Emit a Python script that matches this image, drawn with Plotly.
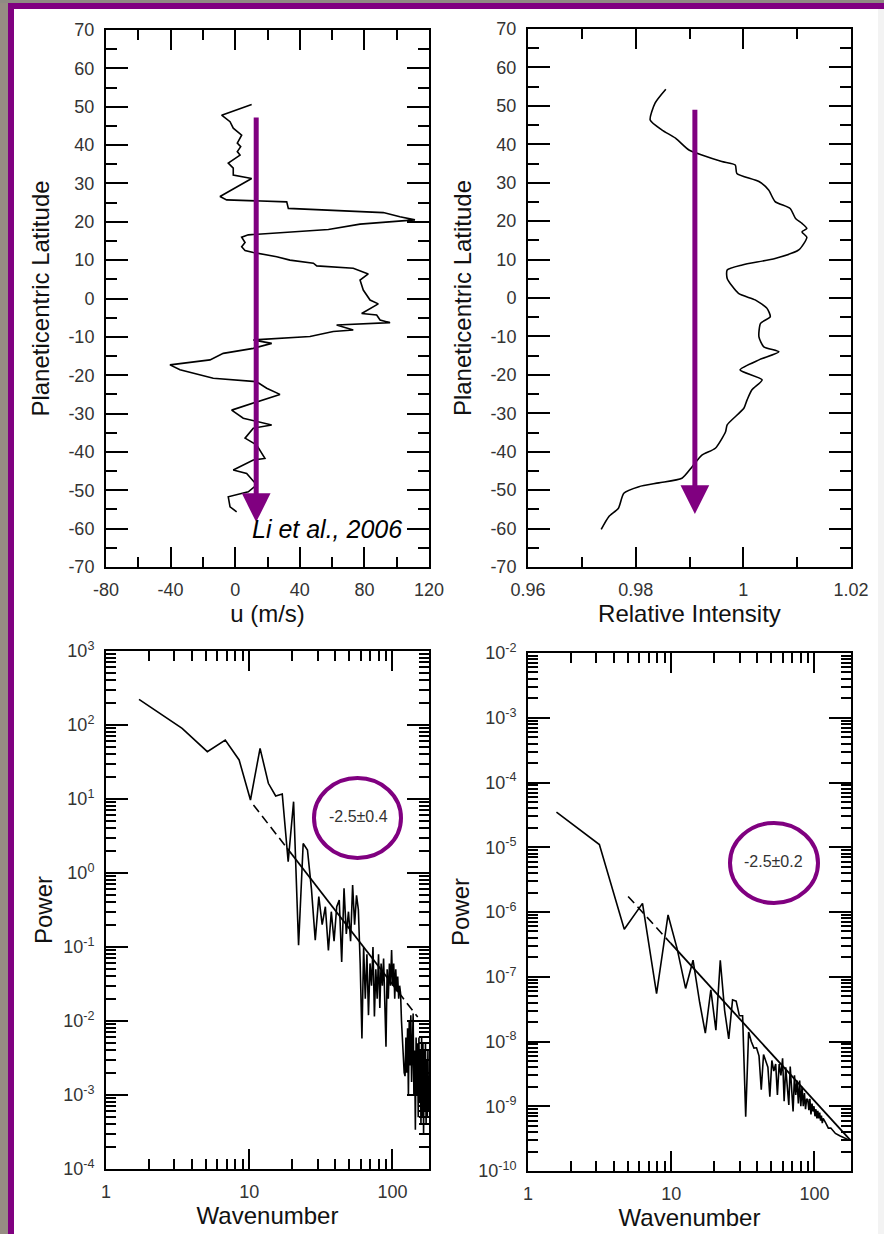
import plotly.graph_objects as go

# ---------------- data ----------------
# Top-left: zonal wind profile
u_wind = [10.2, -8.4, -3.2, -1.2, 4.0, 1.3, 3.4, 1.3, 3.0, -4.3, -1.2, -1.2, 10.2, -9.4, -5.3,
          31.9, 32.9, 91.7, 102.0, 111.3, 77.3, 57.7, 8.1, 4.0, 6.1, 4.0, 6.1, 11.2, 25.7, 33.9,
          48.4, 50.5, 73.1, 82.4, 77.3, 79.3, 83.5, 88.6, 78.3, 87.6, 89.7, 95.9, 62.8, 73.1,
          60.7, 46.3, 11.2, 22.6, 11.2, -7.4, -15.6, -40.4, -34.2, -13.6, 13.3, 19.5, 27.7,
          13.3, -2.2, 5.0, 22.6, 11.2, 6.1, 13.3, 18.4, 11.2, -1.2, 7.1, 13.3, 8.1, -4.3, -3.2, 0.9]
lat_wind = [50.6, 47.8, 46.1, 44.4, 42.6, 40.5, 39.6, 38.3, 37.4, 35.3, 34.0, 32.2, 31.3, 26.6, 25.7,
            25.2, 23.5, 22.4, 21.3, 20.5, 19.4, 18.0, 16.6, 16.0, 14.6, 13.5, 12.5, 12.0, 10.9, 10.0,
            9.2, 8.5, 7.9, 6.4, 4.8, 2.2, -0.4, -1.4, -3.9, -4.3, -5.6, -6.3, -6.9, -8.2,
            -8.6, -9.9, -10.8, -11.7, -13.0, -14.3, -16.0, -17.3, -18.6, -20.8, -21.7, -23.4, -25.0,
            -26.9, -29.1, -31.2, -33.0, -33.8, -36.4, -38.2, -41.7, -42.1, -44.7, -45.6, -48.6, -50.4, -51.7, -54.3, -55.6]

# Top-right: relative intensity profile
intensity = [0.9856, 0.9836, 0.9827, 0.9849, 0.9874, 0.9899, 0.9923, 0.9960, 0.9985, 0.9988,
             1.0029, 1.0047, 1.0059, 1.0087, 1.0097, 1.0109, 1.0118, 1.0109, 1.0118, 1.0103,
             1.0059, 0.9998, 0.9970, 0.9970, 0.9991, 1.0022, 1.0044, 1.0050, 1.0032, 1.0029,
             1.0038, 1.0066, 1.0029, 0.9994, 1.0035, 1.0016, 1.0007, 1.0001, 0.9970, 0.9967,
             0.9948, 0.9923, 0.9905, 0.9886, 0.9843, 0.9806, 0.9778, 0.9768, 0.9750, 0.9736]
lat_int = [54.3, 50.7, 46.3, 43.7, 41.6, 38.5, 37.2, 35.5, 34.6, 32.4,
           30.3, 28.1, 25.1, 23.3, 20.7, 19.4, 18.1, 17.2, 15.8, 12.5,
           10.3, 8.6, 7.3, 5.1, 1.2, -0.5, -2.7, -4.9, -6.6, -10.1,
           -12.7, -14.0, -16.1, -18.7, -21.3, -23.9, -26.5, -28.7, -33.0, -34.8,
           -39.1, -40.9, -43.9, -46.9, -48.1, -49.1, -50.8, -54.7, -56.9, -60.2]

# Bottom-left: power spectrum of wind
k_wind = [1.7, 3.4, 5.1, 6.8, 8.5, 10.2, 11.9, 13.6, 15.3, 17.0, 18.7, 20.4, 22.1, 23.8, 25.5,
          27.2, 28.9, 30.6, 32.3, 34.0, 35.7, 37.4, 39.1, 40.8, 42.5, 44.2, 45.9, 47.6, 49.3,
          51.0, 52.7, 54.4, 56.1, 57.8, 59.5, 61.2, 62.9, 64.6, 66.3, 68.0, 69.7, 71.4, 73.1,
          74.8, 76.5, 78.2, 79.9, 81.6, 83.3, 85.0, 86.7, 88.4, 90.1, 91.8, 93.5, 95.2, 96.9,
          98.6, 100.3, 102.0, 103.7, 105.4, 107.1, 108.8, 110.5, 112.2, 113.9, 115.6, 117.3,
          119.0, 120.7, 122.4, 124.1, 125.8, 127.5, 129.2, 130.9, 132.6, 134.3, 136.0, 137.7,
          139.4, 141.1, 142.8, 144.5, 146.2, 147.9, 149.6, 151.3, 153.0, 154.7, 156.4, 158.1,
          159.8, 161.5, 163.2, 164.9, 166.6, 168.3, 170.0, 171.7, 173.4, 175.1, 176.8, 178.5]
p_wind = [222, 90, 43.6, 62.7, 33.7, 9.7, 48.4, 16.3, 11.0, 11.7, 1.42, 9.2, 0.106, 2.5, 2.05,
          0.6, 0.124, 0.48, 0.2, 0.35, 0.09, 0.3, 0.12, 0.35, 0.43, 0.063, 0.62, 0.15, 0.3,
          0.12, 0.69, 0.2, 0.5, 0.32, 0.06, 0.0058, 0.1, 0.02, 0.08, 0.012, 0.06, 0.03, 0.1,
          0.0115, 0.05, 0.02, 0.08, 0.015, 0.06, 0.03, 0.07, 0.02, 0.0045, 0.05, 0.02, 0.06, 0.03,
          0.091, 0.03, 0.06, 0.02, 0.05, 0.025, 0.04, 0.02, 0.03, 0.0237, 0.01, 0.005,
          0.003, 0.002, 0.0018, 0.006, 0.002, 0.008, 0.001, 0.01, 0.0025, 0.012, 0.0015, 0.008,
          0.0126, 0.001, 0.004, 0.00034, 0.006, 0.001, 0.005, 0.0005, 0.006, 0.0008, 0.004, 0.0004,
          0.006, 0.0005, 0.005, 0.0003, 0.004, 0.0006, 0.005, 0.0004, 0.003, 0.0005, 0.004, 0.0006]

# Bottom-right: power spectrum of intensity
k_int = [1.58, 3.15, 4.7, 6.3, 7.9, 9.5, 11.0, 12.6, 14.2, 15.8, 17.3, 18.9, 20.5, 22.0, 23.6,
         25.2, 26.8, 28.4, 29.9, 31.5, 33.1, 34.7, 36.2, 37.8, 39.4, 41.0, 42.5, 44.1, 45.7,
         47.3, 48.8, 50.4, 52.0, 53.6, 55.1, 56.7, 58.3, 59.9, 61.4, 63.0, 64.6, 66.2, 67.7,
         69.3, 70.9, 72.5, 74.0, 75.6, 77.2, 78.8, 80.3, 81.9, 83.5, 85.1, 86.6, 88.2, 89.8,
         91.4, 92.9, 94.5, 96.1, 97.7, 99.2, 100.8, 102.4, 104.0, 105.5, 107.0, 108.7, 110.3,
         111.8, 113.4, 115.0, 120.0, 125.0, 130.0, 135.0, 140.0, 150.0, 160.0, 167.0, 175.0]
p_int = [3.5e-5, 1.1e-5, 5.4e-7, 1.36e-6, 5.5e-8, 9e-7, 2.7e-7, 6.6e-8, 1.8e-7, 4e-8, 1.35e-8,
         6.3e-8, 1.5e-8, 1.8e-7, 3e-8, 1.1e-8, 4.4e-8, 4.2e-8, 2.5e-8, 2.5e-8, 6.9e-10, 1.4e-8,
         1.0e-8, 7.9e-9, 8e-9, 6e-9, 1.8e-9, 6.3e-9, 5e-9, 4e-9, 1.4e-9, 5.1e-9, 3.5e-9, 4.5e-9,
         1.5e-9, 4.5e-9, 3e-9, 5.5e-9, 1.2e-9, 4e-9, 2e-9, 1.05e-9, 4.1e-9, 1.5e-9, 8.3e-10,
         3e-9, 1.5e-9, 2.5e-9, 1.1e-9, 2.5e-9, 1e-9, 2e-9, 1e-9, 1.6e-9, 9e-10, 1.3e-9, 1.26e-9,
         8.7e-10, 1.3e-9, 7.5e-10, 1.1e-9, 8.3e-10, 1e-9, 7e-10, 9e-10, 6.5e-10, 8.5e-10, 6.5e-10,
         8e-10, 6e-10, 7.2e-10, 5.5e-10, 6.5e-10, 5.5e-10, 4.6e-10, 4.6e-10, 4.2e-10, 3.8e-10,
         3.5e-10, 3.3e-10, 3.2e-10, 3.0e-10]

# Power-law fit lines (slope -2.5), endpoints
fit_wind_dash1_k = [10.7, 18.4]
fit_wind_dash1_p = [8.3, 2.16]
fit_wind_solid_k = [18.4, 110]
fit_wind_solid_p = [2.16, 0.0246]
fit_wind_dash2_k = [110, 150]
fit_wind_dash2_p = [0.0246, 0.0113]
fit_int_dash_k = [5.0, 9.9]
fit_int_dash_p = [1.74e-6, 3.3e-7]
fit_int_solid_k = [9.9, 178]
fit_int_solid_p = [3.3e-7, 3.0e-10]

# Tick labels
u_ticks = [-80, -40, 0, 40, 80, 120]
u_minor = [-60, -20, 20, 60, 100]
lat_ticks = list(range(-70, 71, 10))
lat_minor = list(range(-65, 70, 10))
int_ticks = [0.96, 0.98, 1.0, 1.02]
int_labels = ["0.96", "0.98", "1", "1.02"]
int_minor = [0.97, 0.99, 1.01]
k_ticks = [1, 10, 100]
k_labels = ["1", "10", "100"]
k_minor = [2, 3, 4, 5, 6, 7, 8, 9, 20, 30, 40, 50, 60, 70, 80, 90]
pw_exp = [-4, -3, -2, -1, 0, 1, 2, 3]
pi_exp = [-10, -9, -8, -7, -6, -5, -4, -3, -2]

# ---------------- figure ----------------
W, H = 884, 1234
PURPLE = "#800080"
FONT = "Liberation Sans, Arial, sans-serif"


def px(x):
    return x / W


def py(y):
    return 1 - y / H


def sup_labels(exps):
    vals = [10.0 ** e for e in exps]
    txt = ["10<sup>%s</sup>" % e for e in exps]
    return vals, txt


def log_minor(exps):
    out = []
    for e in exps[:-1]:
        for m in range(2, 10):
            out.append(m * 10.0 ** e)
    return out


fig = go.Figure()
line_style = dict(color="black", width=1.6)

fig.add_trace(go.Scatter(x=u_wind, y=lat_wind, mode="lines", line=line_style,
                         xaxis="x", yaxis="y", showlegend=False))
fig.add_trace(go.Scatter(x=intensity, y=lat_int, mode="lines",
                         line=dict(color="black", width=1.6, shape="spline", smoothing=0.6),
                         xaxis="x2", yaxis="y2", showlegend=False))
fig.add_trace(go.Scatter(x=k_wind, y=p_wind, mode="lines", line=line_style,
                         xaxis="x3", yaxis="y3", showlegend=False))
fig.add_trace(go.Scatter(x=fit_wind_dash1_k, y=fit_wind_dash1_p, mode="lines",
                         line=dict(color="black", width=1.6, dash="9px,5px"),
                         xaxis="x3", yaxis="y3", showlegend=False))
fig.add_trace(go.Scatter(x=fit_wind_solid_k, y=fit_wind_solid_p, mode="lines",
                         line=dict(color="black", width=1.8),
                         xaxis="x3", yaxis="y3", showlegend=False))
fig.add_trace(go.Scatter(x=fit_wind_dash2_k, y=fit_wind_dash2_p, mode="lines",
                         line=dict(color="black", width=1.6, dash="9px,5px"),
                         xaxis="x3", yaxis="y3", showlegend=False))
fig.add_trace(go.Scatter(x=k_int, y=p_int, mode="lines", line=line_style,
                         xaxis="x4", yaxis="y4", showlegend=False))
fig.add_trace(go.Scatter(x=fit_int_dash_k, y=fit_int_dash_p, mode="lines",
                         line=dict(color="black", width=1.6, dash="9px,5px"),
                         xaxis="x4", yaxis="y4", showlegend=False))
fig.add_trace(go.Scatter(x=fit_int_solid_k, y=fit_int_solid_p, mode="lines",
                         line=dict(color="black", width=1.8),
                         xaxis="x4", yaxis="y4", showlegend=False))

tickfont = dict(family=FONT, size=18, color="#333333")
titlefont = dict(family=FONT, size=24, color="#111111")


def ax_common(anchor, domain, ticklen, minorlen, tickvals, ticktext, minorvals,
              title, standoff, rng, axtype="linear", labelstand=0):
    d = dict(anchor=anchor, domain=domain, range=rng, type=axtype, automargin=False,
             showline=True, linecolor="black", linewidth=2, mirror="allticks",
             ticks="inside", ticklen=ticklen, tickwidth=2, tickcolor="black",
             tickmode="array", tickvals=tickvals, ticktext=ticktext,
             tickfont=tickfont, showgrid=False, zeroline=False,
             ticklabelstandoff=labelstand,
             minor=dict(ticks="inside", ticklen=minorlen, tickwidth=2,
                        tickcolor="black", tickmode="array", tickvals=minorvals,
                        showgrid=False),
             title=dict(text=title, font=titlefont, standoff=standoff))
    return d


xd_left = [px(106), px(429)]
xd_right = [px(528), px(851)]

pw_vals, pw_txt = sup_labels(pw_exp)
pi_vals, pi_txt = sup_labels(pi_exp)

fig.update_layout(
    xaxis=ax_common("y", xd_left, 20, 10, u_ticks, [str(v) for v in u_ticks], u_minor,
                    "u (m/s)", 4, [-80, 120], labelstand=5),
    yaxis=ax_common("x", [py(567), py(30)], 22, 11, lat_ticks, [str(v) for v in lat_ticks],
                    lat_minor, "Planeticentric Latitude", 12, [-70, 70], labelstand=6),
    xaxis2=ax_common("y2", xd_right, 20, 10, int_ticks, int_labels, int_minor,
                     "Relative Intensity", 4, [0.96, 1.02], labelstand=5),
    yaxis2=ax_common("x2", [py(567), py(29)], 22, 11, lat_ticks, [str(v) for v in lat_ticks],
                     lat_minor, "Planeticentric Latitude", 12, [-70, 70], labelstand=6),
    xaxis3=ax_common("y3", xd_left, 20, 10, k_ticks, k_labels, k_minor,
                     "Wavenumber", 4, [0, 2.255], axtype="log", labelstand=5),
    yaxis3=ax_common("x3", [py(1169), py(651)], 22, 10, pw_vals, pw_txt, log_minor(pw_exp),
                     "Power", 4, [-4, 3], axtype="log", labelstand=6),
    xaxis4=ax_common("y4", xd_right, 20, 10, k_ticks, k_labels, k_minor,
                     "Wavenumber", 4, [0, 2.255], axtype="log", labelstand=5),
    yaxis4=ax_common("x4", [py(1171), py(653)], 22, 10, pi_vals, pi_txt, log_minor(pi_exp),
                     "Power", 2, [-10, -2], axtype="log", labelstand=6),
)

fig.update_layout(
    width=W, height=H, margin=dict(l=0, r=0, t=0, b=0, autoexpand=False),
    paper_bgcolor="white", plot_bgcolor="white",
    font=dict(family=FONT, color="#222222"),
    showlegend=False,
)

# frame (background strips + purple border)
shapes = [
    dict(type="rect", xref="paper", yref="paper", x0=0, x1=px(8), y0=0, y1=1,
         fillcolor="#968d83", line=dict(width=0), layer="below"),
    dict(type="rect", xref="paper", yref="paper", x0=0, x1=1, y0=py(3), y1=1,
         fillcolor="#8f8b83", line=dict(width=0), layer="below"),
    dict(type="rect", xref="paper", yref="paper", x0=px(8), x1=px(14), y0=0, y1=py(3),
         fillcolor=PURPLE, line=dict(width=0), layer="below"),
    dict(type="rect", xref="paper", yref="paper", x0=px(8), x1=1, y0=py(9), y1=py(3),
         fillcolor=PURPLE, line=dict(width=0), layer="below"),
    dict(type="rect", xref="paper", yref="paper", x0=px(878), x1=1, y0=0, y1=py(9),
         fillcolor="#f3f3f3", line=dict(width=0), layer="below"),
    # ellipses around slope values
    dict(type="circle", xref="paper", yref="paper", x0=px(314), x1=px(401),
         y0=py(858), y1=py(778), line=dict(color=PURPLE, width=4)),
    dict(type="circle", xref="paper", yref="paper", x0=px(730), x1=px(818),
         y0=py(903), y1=py(823), line=dict(color=PURPLE, width=4)),
]
fig.update_layout(shapes=shapes)

annotations = [
    # purple arrows
    dict(x=13, y=-58.3, ax=13, ay=47.6, xref="x", yref="y", axref="x", ayref="y",
         text="", showarrow=True, arrowhead=2, arrowwidth=5, arrowsize=1.15,
         arrowcolor=PURPLE, standoff=0),
    dict(x=0.991, y=-56.2, ax=0.991, ay=49.4, xref="x2", yref="y2", axref="x2", ayref="y2",
         text="", showarrow=True, arrowhead=2, arrowwidth=5, arrowsize=1.15,
         arrowcolor=PURPLE, standoff=0),
    dict(x=104.5, y=-60, xref="x", yref="y", xanchor="right", yanchor="middle",
         text="<i>Li et al., 2006</i>", showarrow=False,
         font=dict(family=FONT, size=25, color="black")),
    dict(x=px(358), y=py(816), xref="paper", yref="paper", text="-2.5±0.4",
         xanchor="center", yanchor="middle",
         showarrow=False, font=dict(family=FONT, size=16, color="#333333")),
    dict(x=px(773), y=py(861), xref="paper", yref="paper", text="-2.5±0.2",
         xanchor="center", yanchor="middle",
         showarrow=False, font=dict(family=FONT, size=16, color="#333333")),
]
fig.update_layout(annotations=annotations)

fig.write_html("out.html")
